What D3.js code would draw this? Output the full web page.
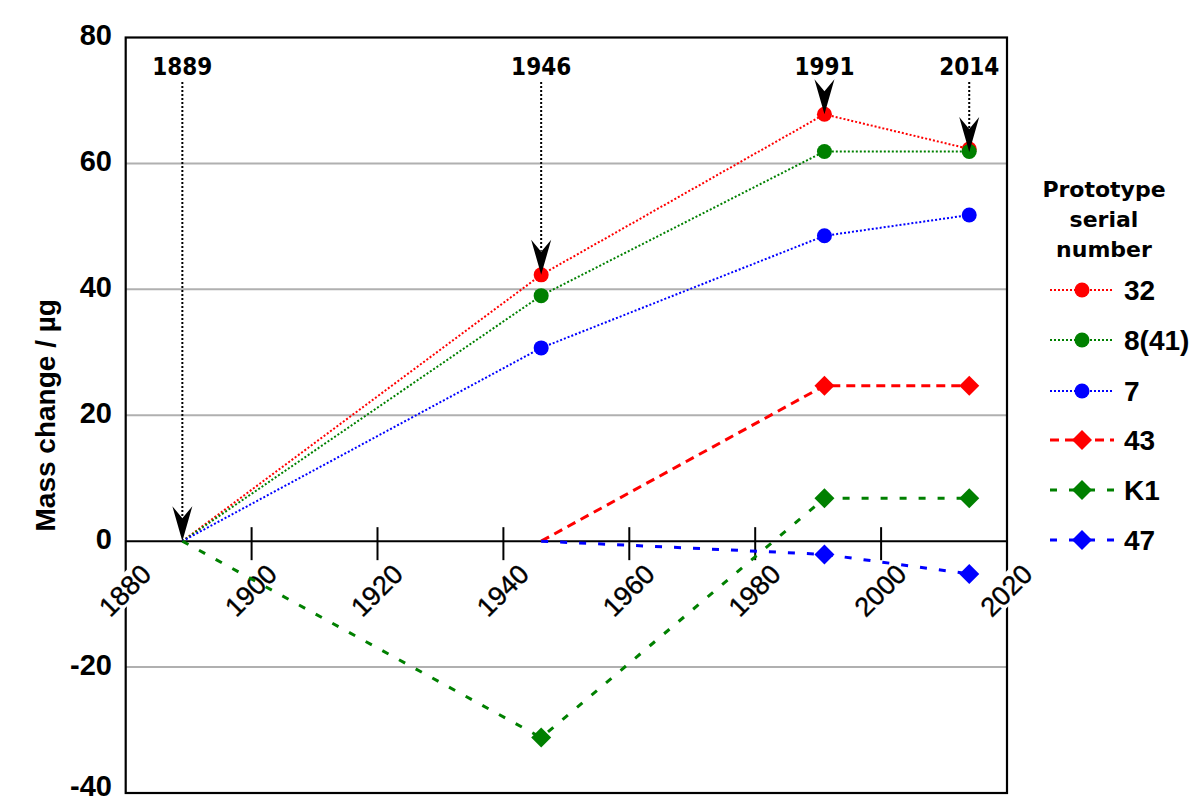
<!DOCTYPE html>
<html><head><meta charset="utf-8">
<script src="https://cdn.jsdelivr.net/npm/d3@7"></script>
<style>body{margin:0;background:#fff}</style>
</head><body>
<svg id="c" width="1200" height="807"></svg>
<script>
// ---- data ----
const annotYears = [1889, 1946, 1991, 2014];
const yearsFull = [1889, 1946, 1991, 2014];
const yearsFrom1946 = [1946, 1991, 2014];
const v32 = [0, 42.3, 67.8, 62.3];
const v8 = [0, 39.0, 61.9, 61.9];
const v7 = [0, 30.7, 48.5, 51.8];
const v43 = [0, 24.7, 24.7];
const vK1 = [0, -31.2, 6.8, 6.8];
const v47 = [0, -2.1, -5.2];
const xTicks = [1880, 1900, 1920, 1940, 1960, 1980, 2000, 2020];
const yTicks = [-40, -20, 0, 20, 40, 60, 80];
const legendTitle = ["Prototype", "serial", "number"];

const series = [
  {name: "32", years: yearsFull, vals: v32, color: "#ff0000", shape: "circle", dash: "2,2", w: 2},
  {name: "8(41)", years: yearsFull, vals: v8, color: "#008000", shape: "circle", dash: "2,2", w: 2},
  {name: "7", years: yearsFull, vals: v7, color: "#0000ff", shape: "circle", dash: "2,2", w: 2},
  {name: "43", years: yearsFrom1946, vals: v43, color: "#ff0000", shape: "diamond", dash: "9,6", w: 3},
  {name: "K1", years: yearsFull, vals: vK1, color: "#008000", shape: "diamond", dash: "7,12", w: 3},
  {name: "47", years: yearsFrom1946, vals: v47, color: "#0000ff", shape: "diamond", dash: "7,12", w: 3}
];

const svg = d3.select("#c");
const L = 125.7, R = 1007, T = 37.5, B = 793;
const x = d3.scaleLinear().domain([1880, 2020]).range([L, R]);
const y = d3.scaleLinear().domain([-40, 80]).range([B, T]);

// gridlines
svg.append("g").selectAll("line").data(yTicks.filter(d => d !== 0 && d !== 80 && d !== -40)).join("line")
  .attr("x1", L).attr("x2", R).attr("y1", d => y(d)).attr("y2", d => y(d))
  .attr("stroke", "#b0b0b0").attr("stroke-width", 2);

// frame
svg.append("rect").attr("x", L).attr("y", T).attr("width", R - L).attr("height", B - T)
  .attr("fill", "none").attr("stroke", "#000").attr("stroke-width", 2.2);

// x axis line at 0
svg.append("line").attr("x1", L).attr("x2", R).attr("y1", y(0)).attr("y2", y(0))
  .attr("stroke", "#000").attr("stroke-width", 2);
// ticks
svg.append("g").selectAll("line").data(xTicks.slice(1, -1)).join("line")
  .attr("x1", d => x(d)).attr("x2", d => x(d)).attr("y1", y(0) - 14).attr("y2", y(0) + 19)
  .attr("stroke", "#000").attr("stroke-width", 2);

// x tick labels (rotated, white background)
const xl = svg.append("g").selectAll("g").data(xTicks).join("g")
  .attr("transform", d => `translate(${x(d) - 1},${y(0) + 49}) rotate(-45)`);
xl.append("rect").attr("x", -33).attr("y", -13).attr("width", 66).attr("height", 26).attr("fill", "#fff");
xl.append("text").text(d => d).attr("text-anchor", "middle").attr("dy", "0.36em")
  .attr("font-family", "Liberation Sans, Arial, sans-serif").attr("font-size", 27)
  .attr("fill", "#000").attr("stroke", "#000").attr("stroke-width", 0.4);

// y tick labels
svg.append("g").selectAll("text").data(yTicks).join("text")
  .attr("x", 112).attr("y", d => Math.min(y(d) - 3, 786)).attr("dy", "0.36em").attr("text-anchor", "end")
  .attr("font-family", "Liberation Sans, Arial, sans-serif").attr("font-weight", "bold")
  .attr("font-size", 29).text(d => d);

// y title
svg.append("text").attr("transform", `translate(55,${(T + B) / 2}) rotate(-90)`)
  .attr("text-anchor", "middle").attr("font-family", "Liberation Sans, Arial, sans-serif")
  .attr("font-weight", "bold").attr("font-size", 28).text("Mass change / µg");

// data lines
const line = d3.line().x(d => x(d[0])).y(d => y(d[1]));
const diamond = (s) => `M0,${-s} L${s},0 L0,${s} L${-s},0 Z`;
series.forEach(s => {
  const pts = s.years.map((yr, i) => [yr, s.vals[i]]);
  svg.append("path").attr("d", line(pts)).attr("fill", "none").attr("stroke", s.color)
    .attr("stroke-width", s.w).attr("stroke-dasharray", s.dash);
});
series.forEach(s => {
  const pts = s.years.map((yr, i) => [yr, s.vals[i]]).slice(1);
  const g = svg.append("g").selectAll("g").data(pts).join("g")
    .attr("transform", d => `translate(${x(d[0])},${y(d[1])})`);
  if (s.shape === "circle") g.append("circle").attr("r", 7.5).attr("fill", s.color);
  else g.append("path").attr("d", diamond(10)).attr("fill", s.color);
});

// annotations: arrows pointing to series 32
const arrowTargets = annotYears.map(yr => v32[yearsFull.indexOf(yr)]);
annotYears.forEach((yr, i) => {
  const tx = x(yr), ty = y(arrowTargets[i]) + (i === 3 ? 3 : 0);
  svg.append("text").attr("x", tx).attr("y", 75).attr("text-anchor", "middle")
    .attr("font-family", "DejaVu Sans, sans-serif").attr("font-stretch", "condensed")
    .attr("font-weight", "bold").attr("font-size", 24).text(yr);
  if (ty - 35 > 84) {
    svg.append("line").attr("x1", tx).attr("x2", tx).attr("y1", 82).attr("y2", ty - 24)
      .attr("stroke", "#000").attr("stroke-width", 2).attr("stroke-dasharray", "2,2");
  }
  svg.append("path").attr("transform", `translate(${tx},${ty})`)
    .attr("d", "M0,0 L-10,-35 L0,-23 L10,-35 Z").attr("fill", "#000");
});

// legend
const lx = 1104;
svg.append("g").selectAll("text").data(legendTitle).join("text")
  .attr("x", lx).attr("y", (d, i) => 197 + i * 30).attr("text-anchor", "middle")
  .attr("font-family", "DejaVu Sans, sans-serif").attr("font-weight", "bold")
  .attr("font-size", 22).text(d => d);
const rowY = [290, 340, 391, 440, 490, 540];
series.forEach((s, i) => {
  const g = svg.append("g").attr("transform", `translate(0,${rowY[i]})`);
  g.append("line").attr("x1", 1050).attr("x2", 1114).attr("y1", 0).attr("y2", 0)
    .attr("stroke", s.color).attr("stroke-width", s.w).attr("stroke-dasharray", s.dash);
  if (s.shape === "circle") g.append("circle").attr("cx", 1082).attr("r", 7.5).attr("fill", s.color);
  else g.append("path").attr("transform", "translate(1082,0)").attr("d", diamond(10)).attr("fill", s.color);
  g.append("text").attr("x", 1124).attr("dy", "0.36em").attr("font-family", "Liberation Sans, Arial, sans-serif")
    .attr("font-weight", "bold").attr("font-size", 28).text(s.name);
});
</script>
</body></html>
